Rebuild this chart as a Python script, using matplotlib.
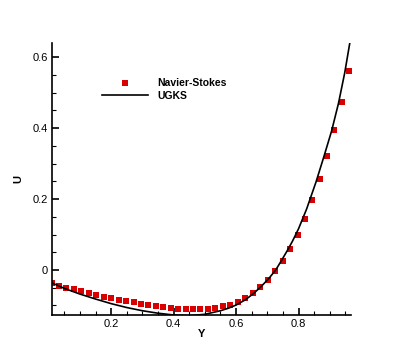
import matplotlib
matplotlib.use("Agg")
import matplotlib.pyplot as plt
from matplotlib.ticker import MultipleLocator

plt.rcParams["font.family"] = ["Liberation Sans", "DejaVu Sans"]

# Navier-Stokes solution (squares)
ns_y = [0.009, 0.033, 0.056, 0.080, 0.104, 0.128, 0.152, 0.176, 0.200, 0.224,
        0.248, 0.272, 0.295, 0.319, 0.343, 0.367, 0.391, 0.415, 0.439, 0.463,
        0.486, 0.510, 0.534, 0.558, 0.582, 0.606, 0.630, 0.654, 0.678, 0.701,
        0.725, 0.749, 0.773, 0.797, 0.821, 0.844, 0.868, 0.892, 0.915, 0.939,
        0.963]
ns_u = [-0.0375, -0.045, -0.051, -0.055, -0.060, -0.065, -0.070, -0.075, -0.080, -0.084,
        -0.087, -0.091, -0.095, -0.099, -0.102, -0.105, -0.107, -0.109, -0.110, -0.111,
        -0.111, -0.109, -0.107, -0.103, -0.098, -0.090, -0.080, -0.066, -0.049, -0.028,
        -0.004, 0.0245, 0.058, 0.098, 0.144, 0.196, 0.256, 0.322, 0.395, 0.475,
        0.5625]

# UGKS solution (line)
ugks_y = [0.009, 0.05, 0.10, 0.15, 0.20, 0.25, 0.30, 0.35, 0.40, 0.45,
          0.50, 0.55, 0.575, 0.60, 0.63, 0.655, 0.68, 0.705, 0.727, 0.745,
          0.763, 0.78, 0.80, 0.826, 0.856, 0.880, 0.906, 0.928, 0.948, 0.964]
ugks_u = [-0.036, -0.052, -0.068, -0.082, -0.095, -0.106, -0.115, -0.122, -0.127, -0.129,
          -0.125, -0.115, -0.108, -0.099, -0.084, -0.067, -0.047, -0.024, 0.000, 0.026,
          0.053, 0.080, 0.116, 0.172, 0.248, 0.316, 0.392, 0.470, 0.556, 0.639]

fig = plt.figure(figsize=(3.99, 3.55), dpi=100)
ax = fig.add_axes([0.1296, 0.1127, 0.750, 0.766])

ax.plot(ns_y, ns_u, linestyle="none", marker="s", markersize=4.3,
        color="#d80000", markeredgewidth=0, label="Navier-Stokes")
ax.plot(ugks_y, ugks_u, color="black", linewidth=1.2, label="UGKS")

ax.set_xlim(0.0095, 0.968)
ax.set_ylim(-0.127, 0.64)

for side in ["top", "right"]:
    ax.spines[side].set_visible(False)
for side in ["left", "bottom"]:
    ax.spines[side].set_linewidth(1.2)

ax.xaxis.set_minor_locator(MultipleLocator(0.05))
ax.yaxis.set_minor_locator(MultipleLocator(0.05))
ax.set_xticks([0.2, 0.4, 0.6, 0.8])
ax.set_xticklabels(["0.2", "0.4", "0.6", "0.8"])
ax.set_yticks([0.0, 0.2, 0.4, 0.6])
ax.set_yticklabels(["0", "0.2", "0.4", "0.6"])
ax.tick_params(which="major", direction="in", length=5, width=1.2,
               labelsize=8, pad=3, colors="black")
ax.tick_params(which="minor", direction="in", length=3, width=0.8)

ax.set_xlabel("Y", fontsize=8, fontweight="bold", labelpad=0)
ax.set_ylabel("U", fontsize=8, fontweight="bold", labelpad=6)

ax.legend(loc="upper left", bbox_to_anchor=(0.168, 0.87), frameon=False,
          prop={"size": 7.5, "weight": "bold"}, numpoints=1, handlelength=4.4,
          handletextpad=0.9, labelspacing=0.25, borderpad=0, borderaxespad=0)

fig.savefig("out.png", dpi=100)
